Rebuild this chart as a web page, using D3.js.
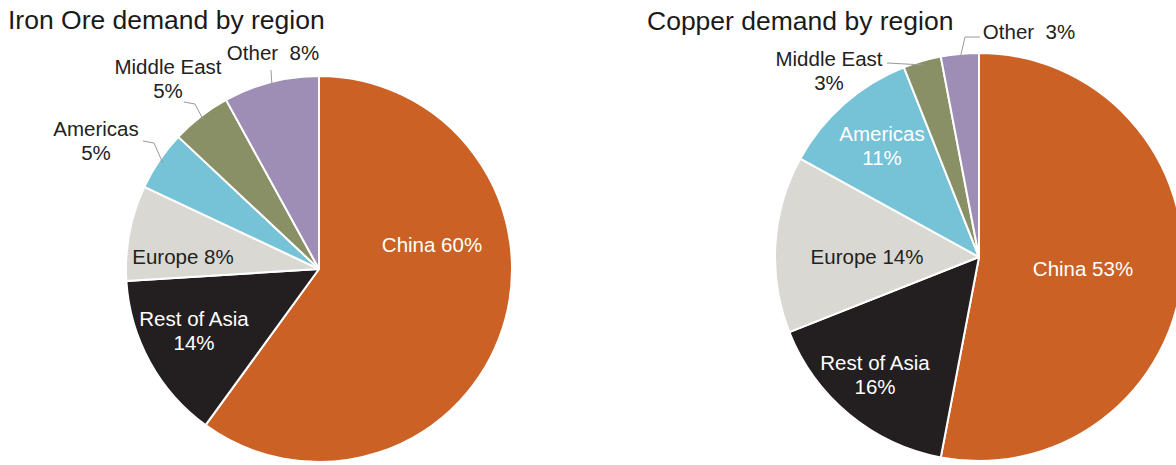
<!DOCTYPE html>
<html>
<head>
<meta charset="utf-8">
<script src="https://cdn.jsdelivr.net/npm/d3@7"></script>
<style>
  body { margin: 0; background: #fff; }
  svg { display: block; font-family: Arial, "Liberation Sans", Helvetica, sans-serif; }
</style>
</head>
<body>
<script>
// values, clockwise from 12 o'clock
const regions = ["China", "Rest of Asia", "Europe", "Americas", "Middle East", "Other"];
const ironShare = [60, 14, 8, 5, 5, 8];
const copperShare = [53, 16, 14, 11, 3, 3];
const regionColors = ["#CB6125", "#231F20", "#DAD8D3", "#76C2D6", "#8A9065", "#9E8DB5"];

// how each label is broken into lines
function labelLines(name, v) {
    if (name === "Other") return [name + "\u00a0\u00a0" + v + "%"];
    if (name === "China" || name === "Europe") return [name + " " + v + "%"];
    return [name, v + "%"];
}

var width = 1176, height = 465;

var svg = d3.select("body").append("svg")
    .attr("width", width)
    .attr("height", height);

var charts = [
    {
        title: "Iron Ore demand by region", tx: 8, ty: 29,
        values: ironShare, cx: 319, cy: 269, r: 193,
        // label offsets from the pie centre
        labels: [[113, -25], [-125, 49], [-136, -13], [-223, -141], [-151, -203], [-46, -217]],
        white: [true, true, false, false, false, false],
        leaders: [null, null, null, [[-176, -128], [-165, -126]], [[-135, -167], [-124, -165]], [[-48, -199]]]
    },
    {
        title: "Copper demand by region", tx: 647, ty: 30,
        values: copperShare, cx: 979, cy: 257, r: 204,
        labels: [[104, 11], [-104, 105], [-112, -1], [-97, -124], [-150, -199], [50, -226]],
        white: [true, true, false, true, false, false],
        leaders: [null, null, null, null, [[-92, -194]], [[1, -220], [-14, -220]]]
    }
];

var pie = d3.pie().sort(null).value(function(d) { return d; });

charts.forEach(function(c) {
    var arc = d3.arc().innerRadius(0).outerRadius(c.r);
    var edge = d3.arc().innerRadius(c.r - 4).outerRadius(c.r - 4);
    var slices = pie(c.values);

    svg.append("text")
        .attr("x", c.tx)
        .attr("y", c.ty)
        .attr("font-size", 26.5)
        .attr("fill", "#1a1a1a")
        .text(c.title);

    var g = svg.append("g")
        .attr("transform", "translate(" + c.cx + "," + c.cy + ")");

    g.selectAll("path.slice")
        .data(slices)
        .enter().append("path")
        .attr("class", "slice")
        .attr("d", arc)
        .attr("fill", function(d, i) { return regionColors[i]; })
        .attr("stroke", "#fff")
        .attr("stroke-width", 2)
        .attr("stroke-linejoin", "round");

    // leader lines for the labels sitting outside the pie
    slices.forEach(function(d, i) {
        if (!c.leaders[i]) return;
        var pts = c.leaders[i].concat([edge.centroid(d)]);
        g.append("path")
            .attr("d", d3.line()(pts))
            .attr("fill", "none")
            .attr("stroke", "#9a9a9a")
            .attr("stroke-width", 1);
    });

    slices.forEach(function(d, i) {
        var lines = labelLines(regions[i], c.values[i]);
        var t = g.append("text")
            .attr("text-anchor", "middle")
            .attr("font-size", 20.5)
            .attr("fill", c.white[i] ? "#fff" : "#222")
            .attr("transform", "translate(" + c.labels[i][0] + "," + c.labels[i][1] + ")");
        lines.forEach(function(s, k) {
            t.append("tspan")
                .attr("x", 0)
                .attr("y", 7.5 + k * 24)
                .text(s);
        });
    });
});
</script>
</body>
</html>
